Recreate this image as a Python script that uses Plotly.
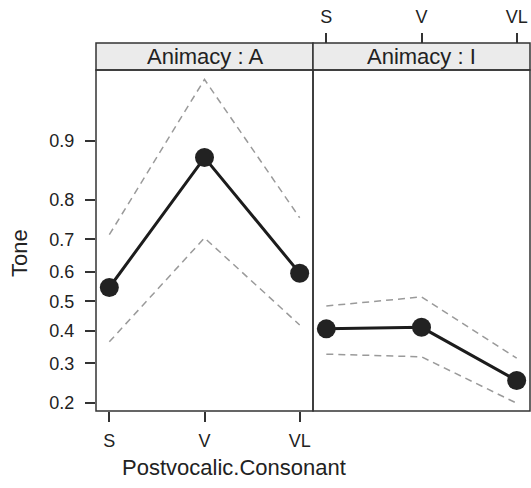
import numpy as np
import plotly.graph_objects as go

categories = ["S", "V", "VL"]
panels = ["A", "I"]
fit_A = [0.547, 0.877, 0.595]
upper_A = [0.713, 0.954, 0.758]
lower_A = [0.365, 0.704, 0.420]
fit_I = [0.407, 0.412, 0.253]
upper_I = [0.484, 0.515, 0.315]
lower_I = [0.327, 0.319, 0.199]
y_ticks = [0.2, 0.3, 0.4, 0.5, 0.6, 0.7, 0.8, 0.9]

def logit(p):
    p = np.asarray(p, dtype=float)
    return np.log(p / (1 - p))

xpos = [1, 2, 3]
FONT = "Liberation Sans, Arial, sans-serif"
fig = go.Figure()

for xa, fit, up, lo in [("x", fit_A, upper_A, lower_A), ("x2", fit_I, upper_I, lower_I)]:
    for band in (up, lo):
        fig.add_trace(go.Scatter(x=xpos, y=logit(band), mode="lines", xaxis=xa, yaxis="y",
                                 line=dict(color="#9a9a9a", width=1.5, dash="7px,5px"),
                                 showlegend=False, hoverinfo="skip"))
    fig.add_trace(go.Scatter(x=xpos, y=logit(fit), mode="lines+markers", xaxis=xa, yaxis="y",
                             line=dict(color="#1c1c1c", width=3),
                             marker=dict(color="#222222", size=19),
                             showlegend=False))

W, H = 531, 488
L, R, T, B = 96, 1, 43, 77
pw, ph = W - L - R, H - T - B
ytop = (ph - 27) / ph

shapes = []
for x0, x1 in [(0, 0.5), (0.5, 1)]:
    shapes.append(dict(type="rect", xref="paper", yref="paper", x0=x0, x1=x1, y0=0, y1=ytop,
                       line=dict(color="#333333", width=1.5), fillcolor="rgba(0,0,0,0)", layer="above"))
    shapes.append(dict(type="rect", xref="paper", yref="paper", x0=x0, x1=x1, y0=ytop, y1=1,
                       line=dict(color="#333333", width=1.5), fillcolor="#ebebeb", layer="below"))

annotations = []
for i, pn in enumerate(panels):
    annotations.append(dict(text=f"Animacy : {pn}", xref="paper", yref="paper", x=0.25 + 0.5 * i,
                            y=(ytop + 1) / 2, showarrow=False, font=dict(size=22, color="#222", family=FONT),
                            xanchor="center", yanchor="middle"))
annotations.append(dict(text="Postvocalic.Consonant", xref="paper", yref="paper",
                        x=(233.5 - L) / pw, y=(ph + T - 467) / ph, showarrow=False,
                        font=dict(size=22, color="#222", family=FONT), xanchor="center", yanchor="middle"))
annotations.append(dict(text="Tone", xref="paper", yref="paper", textangle=-90,
                        x=(19 - L) / pw, y=(ph + T - 253) / ph, showarrow=False,
                        font=dict(size=22, color="#222", family=FONT), xanchor="center", yanchor="middle"))

axis_common = dict(range=[0.86, 3.14], tickvals=xpos, ticktext=categories, ticks="outside",
                   ticklen=10, tickwidth=1.5, tickcolor="#333", showgrid=False, zeroline=False,
                   showline=False, tickfont=dict(size=18, color="#222", family=FONT), fixedrange=True,
                   automargin=False)

fig.update_layout(
    width=W, height=H,
    margin=dict(l=L, r=R, t=T, b=B, autoexpand=False),
    paper_bgcolor="white", plot_bgcolor="white",
    shapes=shapes, annotations=annotations,
    xaxis=dict(domain=[0, 0.5], anchor="y", side="bottom", ticklabelstandoff=3, **axis_common),
    xaxis2=dict(domain=[0.5, 1], anchor="free", position=1, side="top", ticklabelstandoff=3, **axis_common),
    yaxis=dict(domain=[0, ytop], anchor="x", range=[-1.499, 3.161],
               tickvals=list(logit(y_ticks)), ticktext=[f"{v:.1f}" for v in y_ticks],
               ticks="outside", ticklen=10, tickwidth=1.5, tickcolor="#333",
               showgrid=False, zeroline=False, showline=False, automargin=False,
               ticklabelstandoff=7,
               tickfont=dict(size=18, color="#222", family=FONT)),
)

fig.write_html("out.html",
               config={"displayModeBar": False},
               post_script="document.body.style.margin='0';document.body.style.padding='0';"
                           "document.documentElement.style.overflow='hidden';"
                           "document.body.style.overflow='hidden';")
